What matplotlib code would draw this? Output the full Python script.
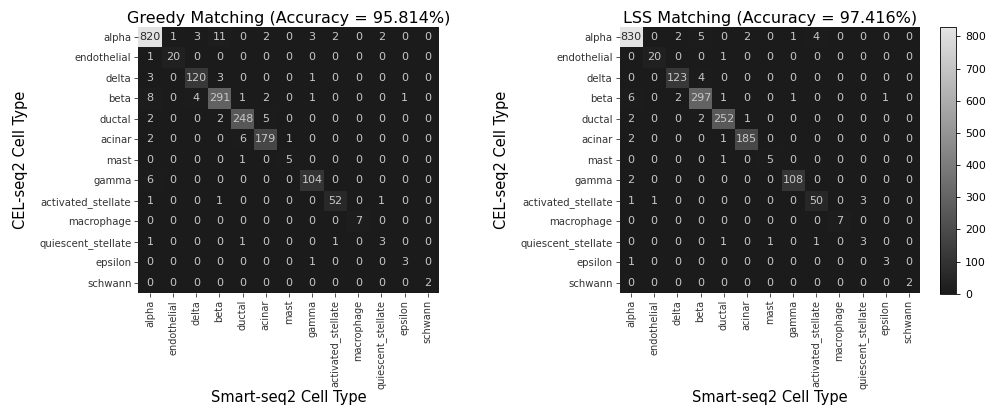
import numpy as np
import matplotlib.pyplot as plt
from matplotlib.colors import LinearSegmentedColormap

cell_types = [
    "alpha", "endothelial", "delta", "beta", "ductal", "acinar", "mast",
    "gamma", "activated_stellate", "macrophage", "quiescent_stellate",
    "epsilon", "schwann",
]

# rows: CEL-seq2 label, columns: Smart-seq2 label
greedy_counts = [
    [820, 1, 3, 11, 0, 2, 0, 3, 2, 0, 2, 0, 0],
    [1, 20, 0, 0, 0, 0, 0, 0, 0, 0, 0, 0, 0],
    [3, 0, 120, 3, 0, 0, 0, 1, 0, 0, 0, 0, 0],
    [8, 0, 4, 291, 1, 2, 0, 1, 0, 0, 0, 1, 0],
    [2, 0, 0, 2, 248, 5, 0, 0, 0, 0, 0, 0, 0],
    [2, 0, 0, 0, 6, 179, 1, 0, 0, 0, 0, 0, 0],
    [0, 0, 0, 0, 1, 0, 5, 0, 0, 0, 0, 0, 0],
    [6, 0, 0, 0, 0, 0, 0, 104, 0, 0, 0, 0, 0],
    [1, 0, 0, 1, 0, 0, 0, 0, 52, 0, 1, 0, 0],
    [0, 0, 0, 0, 0, 0, 0, 0, 0, 7, 0, 0, 0],
    [1, 0, 0, 0, 1, 0, 0, 0, 1, 0, 3, 0, 0],
    [0, 0, 0, 0, 0, 0, 0, 1, 0, 0, 0, 3, 0],
    [0, 0, 0, 0, 0, 0, 0, 0, 0, 0, 0, 0, 2],
]

lss_counts = [
    [830, 0, 2, 5, 0, 2, 0, 1, 4, 0, 0, 0, 0],
    [0, 20, 0, 0, 1, 0, 0, 0, 0, 0, 0, 0, 0],
    [0, 0, 123, 4, 0, 0, 0, 0, 0, 0, 0, 0, 0],
    [6, 0, 2, 297, 1, 0, 0, 1, 0, 0, 0, 1, 0],
    [2, 0, 0, 2, 252, 1, 0, 0, 0, 0, 0, 0, 0],
    [2, 0, 0, 0, 1, 185, 0, 0, 0, 0, 0, 0, 0],
    [0, 0, 0, 0, 1, 0, 5, 0, 0, 0, 0, 0, 0],
    [2, 0, 0, 0, 0, 0, 0, 108, 0, 0, 0, 0, 0],
    [1, 1, 0, 0, 0, 0, 0, 0, 50, 0, 3, 0, 0],
    [0, 0, 0, 0, 0, 0, 0, 0, 0, 7, 0, 0, 0],
    [0, 0, 0, 0, 1, 0, 1, 0, 1, 0, 3, 0, 0],
    [1, 0, 0, 0, 0, 0, 0, 0, 0, 0, 0, 3, 0],
    [0, 0, 0, 0, 0, 0, 0, 0, 0, 0, 0, 0, 2],
]

greedy_acc = 95.814
lss_acc = 97.416

cmap = LinearSegmentedColormap.from_list("grey", ["#1b1b1b", "#e4e4e4"])
vmax = max(np.max(greedy_counts), np.max(lss_counts))

fig = plt.figure(figsize=(9.92, 4.12), dpi=100)
ax1 = fig.add_axes([0.1395, 0.289, 0.3034, 0.646])
ax2 = fig.add_axes([0.6245, 0.289, 0.3034, 0.646])
cax = fig.add_axes([0.9476, 0.287, 0.0161, 0.648])


def draw_matrix(ax, counts, title):
    counts = np.array(counts)
    mesh = ax.pcolormesh(counts, cmap=cmap, vmin=0, vmax=vmax)
    ax.set_xlim(0, counts.shape[1])
    ax.set_ylim(counts.shape[0], 0)
    for i in range(counts.shape[0]):
        for j in range(counts.shape[1]):
            v = counts[i, j]
            color = "#2a2a2a" if v > 0.6 * vmax else "#c8c8c8"
            ax.text(j + 0.5, i + 0.5, str(v), ha="center", va="center",
                    fontsize=8, color=color)
    ticks = np.arange(len(cell_types)) + 0.5
    ax.set_xticks(ticks)
    ax.set_xticklabels(cell_types, rotation=90, fontsize=7.0)
    ax.set_yticks(ticks)
    ax.set_yticklabels(cell_types, fontsize=7.3)
    ax.tick_params(length=3, width=0.6, pad=2, colors="#333333")
    for s in ax.spines.values():
        s.set_visible(False)
    ax.set_title(title, fontsize=11.5, pad=3)
    ax.set_xlabel("Smart-seq2 Cell Type", fontsize=10.5, labelpad=1)
    ax.set_ylabel("CEL-seq2 Cell Type", fontsize=10.5, labelpad=8)
    return mesh


draw_matrix(ax1, greedy_counts, f"Greedy Matching (Accuracy = {greedy_acc:.3f}%)")
mesh = draw_matrix(ax2, lss_counts, f"LSS Matching (Accuracy = {lss_acc:.3f}%)")

cb = fig.colorbar(mesh, cax=cax)
cb.set_ticks(range(0, 900, 100))
cb.ax.tick_params(labelsize=7.8, length=3, width=0.6)
cb.outline.set_linewidth(0.6)

fig.savefig("out.png", dpi=100)
